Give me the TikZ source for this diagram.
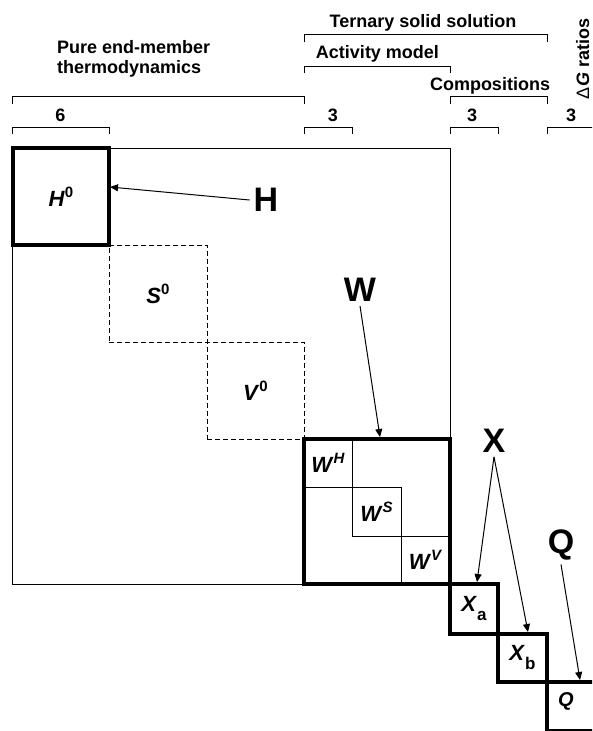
\documentclass[tikz,border=0pt]{standalone}
\usepackage{fontspec}
\setmainfont{Liberation Sans}
\usetikzlibrary{arrows.meta}
\newcommand{\mysup}[1]{\raisebox{9pt}{\fontsize{15}{15}\selectfont #1}}
\newcommand{\mysub}[1]{\raisebox{-9pt}{\fontsize{17}{17}\selectfont #1}}
\tikzset{
  txt/.style={inner sep=0pt, font=\fontsize{18}{20}\selectfont\bfseries},
  big/.style={inner sep=4pt, font=\fontsize{34}{36}\selectfont\bfseries},
  thinsq/.style={draw, line width=1pt, inner sep=0pt, font=\fontsize{22}{23}\selectfont\bfseries},
  dashsq/.style={thinsq, dash pattern=on 5pt off 3pt},
  thicksq/.style={thinsq, line width=4pt},
  brk/.style={line width=1pt},
  arr/.style={line width=1pt, -{Triangle[length=8pt,width=7pt]}}
}
\begin{document}
\begin{tikzpicture}[x=1pt,y=-1pt]
\useasboundingbox (0,0) rectangle (592,731);
\clip (0,0) rectangle (592,731);
% brackets
\draw[brk] (304,42) |- (547,34) -- (547,42);
\draw[brk] (304,73) |- (450,66) -- (450,73);
\draw[brk] (12,104) |- (304,96) -- (304,104);
\draw[brk] (450,104) |- (547,96) -- (547,104);
\draw[brk] (12,134) |- (109,127) -- (109,134);
\draw[brk] (304,134) |- (352,127) -- (352,134);
\draw[brk] (450,134) |- (498,127) -- (498,134);
\draw[brk] (547,134) |- (600,127);
% header texts
\node[txt, anchor=base] (tern) at (423,27) {Ternary solid solution};
\node[txt, anchor=base] (act) at (377.5,58) {Activity model};
\node[txt, anchor=base west] (pure1) at (57,53) {Pure end-member};
\node[txt, anchor=base west] (pure2) at (57,73) {thermodynamics};
\node[txt, anchor=base] (comp) at (490,90) {Compositions};
\node[txt, anchor=base, rotate=90] (dg) at (589,59) {{\mdseries Δ}\textit{G} ratios};
\node[txt, anchor=base] (n6) at (60.5,121) {6};
\node[txt, anchor=base] (n3a) at (333,121) {3};
\node[txt, anchor=base] (n3b) at (472,121) {3};
\node[txt, anchor=base] (n3c) at (571,121) {3};
% matrix
\node[thinsq, minimum width=438pt, minimum height=436pt] (outer) at (231,366) {};
\node[dashsq, minimum width=98pt, minimum height=97pt] (s0) at (158,293.5) {\textit{S}\mysup{0}};
\node[dashsq, minimum width=97pt, minimum height=97pt] (v0) at (255.5,390.5) {\textit{V}\mysup{0}};
\node[thinsq, minimum width=48pt, minimum height=48pt] (wh) at (328,463) {\textit{W}\mysup{\textit{H}}};
\node[thinsq, minimum width=49pt, minimum height=49pt] (ws) at (376.5,511.5) {\textit{W}\mysup{\textit{S}}};
\node[thinsq, minimum width=49pt, minimum height=48pt] (wv) at (425.5,560) {\textit{W}\mysup{\textit{V}}};
\node[thicksq, minimum width=96pt, minimum height=97pt] (h0) at (61,196.5) {\textit{H}\mysup{0}};
\node[thicksq, minimum width=146pt, minimum height=145pt] (wbig) at (377,511.5) {};
\node[thicksq, minimum width=48pt, minimum height=50pt] (xa) at (474,609) {\textit{X}\mysub{a}};
\node[thicksq, minimum width=49pt, minimum height=48pt] (xb) at (522.5,658) {\textit{X}\mysub{b}};
\node[thicksq, minimum width=49pt, minimum height=49pt] (q) at (571.5,706.5) {};
\node[txt, font=\fontsize{20}{22}\selectfont\bfseries] (qlab) at (566,701) {\textit{Q}};
% big labels
\node[big] (Hl) at (266,200) {H};
\node[big] (Wl) at (360,290) {W};
\node[big] (Xl) at (494,441) {X};
\node[big] (Ql) at (561,545) {Q};
% arrow tips
\coordinate (htip) at (110,187);
\coordinate (wtip) at (380,437);
\coordinate (xatip) at (477,582);
\coordinate (xbtip) at (528,632);
\coordinate (qtip) at (580,680);
\draw[arr] (Hl.west) -- (htip);
\draw[arr] (Wl.south) -- (wtip);
\draw[arr] (Xl.south) -- (xatip);
\draw[arr] (Xl.south) -- (xbtip);
\draw[arr] (Ql.south) -- (qtip);
\end{tikzpicture}
\end{document}
